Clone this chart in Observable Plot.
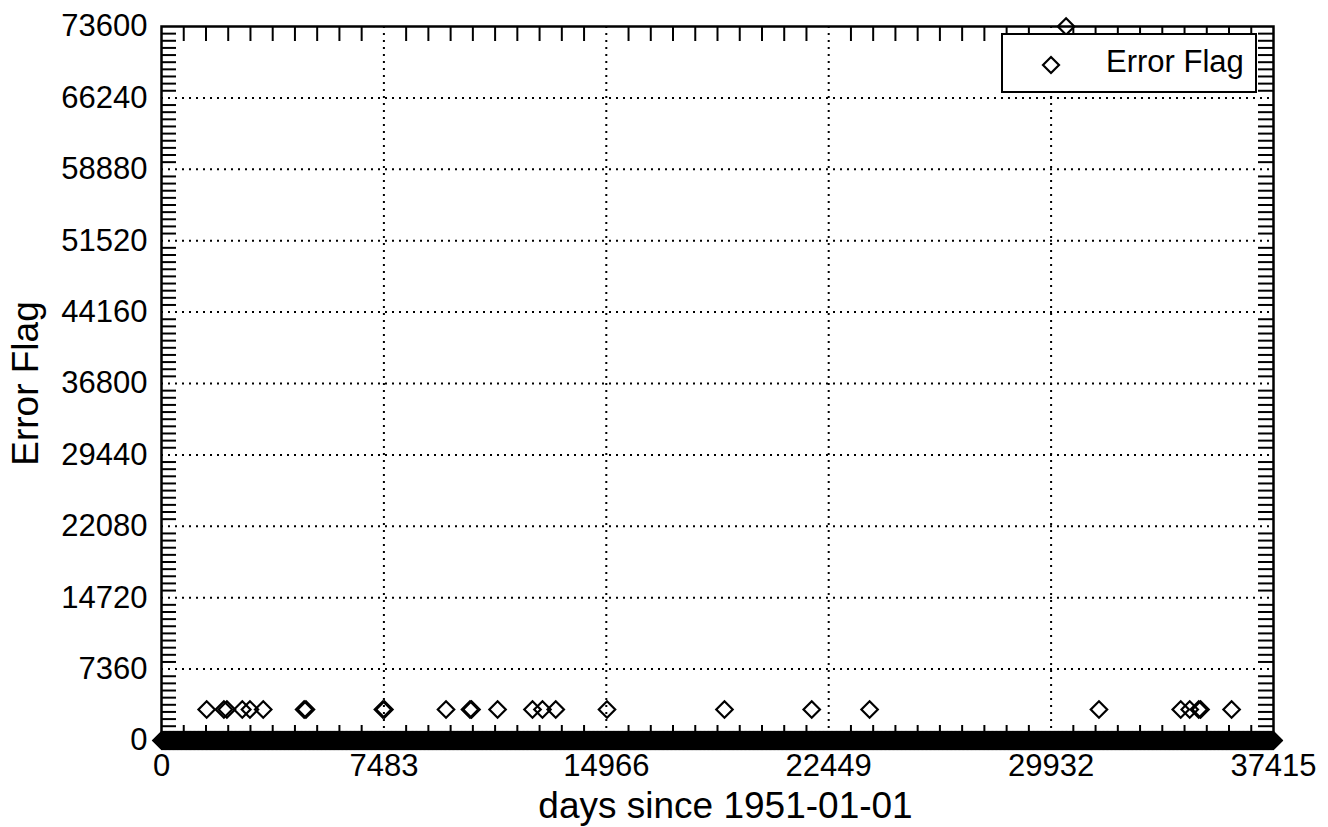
<!DOCTYPE html>
<html>
<head>
<meta charset="utf-8">
<script src="https://cdn.jsdelivr.net/npm/d3@7"></script>
<script src="https://cdn.jsdelivr.net/npm/@observablehq/plot@0.6"></script>
<style>
  html, body { margin: 0; padding: 0; background: #fff; }
  #wrap { position: relative; width: 1328px; height: 827px; font-family: "Liberation Sans", Arial, Helvetica, sans-serif; }
  #legend { position: absolute; left: 1001px; top: 33px; width: 252px; height: 56px; border: 2px solid #000; background: #fff; }
  #legend svg { position: absolute; left: 35px; top: 17px; }
  #legend span { position: absolute; left: 103px; top: 9px; font-size: 31px; line-height: 36px; color: #000; }
</style>
</head>
<body>
<div id="wrap">
  <div id="chart"></div>
  <div id="legend">
    <svg width="26" height="26"><path d="M13,5L21,13L13,21L5,13Z" fill="none" stroke="#000" stroke-width="2.2"/></svg>
    <span>Error Flag</span>
  </div>
</div>
<script>
// ---- data ----
const xTicks = [0, 7483, 14966, 22449, 29932, 37415];
const yTicks = [0, 7360, 14720, 22080, 29440, 36800, 44160, 51520, 58880, 66240, 73600];

// days with a non-zero error flag
const flagDays   = [1520, 2100, 2200, 2718, 2976, 3423, 4800, 4860, 7450, 7500, 9573, 10380, 10430,
                    11308, 12483, 12818, 13265, 14990, 18942, 21878, 23825, 30436, 31543, 34294, 34596,
                    34900, 34960, 36005];
const flagValues = [3200, 3200, 3200, 3200, 3200, 3200, 3200, 3200, 3200, 3200, 3200, 3200, 3200,
                    3200, 3200, 3200, 3200, 3200, 3200, 3200, 3200, 73600, 3200, 3200, 3200,
                    3200, 3200, 3200];

// all other days carry flag 0 (daily record, sampled)
const zeroFirstDay = 0;
const zeroLastDay = 37415;
const zeroDayStep = 15;

// ---- build tables ----
const flagged = flagDays.map((d, i) => ({day: d, flag: flagValues[i]}));
const zeros = d3.range(zeroFirstDay, zeroLastDay + 1, zeroDayStep).map(d => ({day: d, flag: 0}));
zeros.push({day: zeroLastDay, flag: 0});
const points = zeros.concat(flagged);

const minorOf = (ticks) => {
  const out = [];
  for (let i = 0; i < ticks.length - 1; i++) {
    const s = (ticks[i + 1] - ticks[i]) / 10;
    for (let k = 1; k < 10; k++) out.push(ticks[i] + k * s);
  }
  return out;
};
const xMinor = minorOf(xTicks);
const yMinor = minorOf(yTicks);

const W = 1328, H = 827, mL = 161, mR = 55, mT = 26, mB = 87;
const pw = W - mL - mR, ph = H - mT - mB;
const tickLen = 15;

const chart = Plot.plot({
  width: W, height: H,
  marginLeft: mL, marginRight: mR, marginTop: mT, marginBottom: mB,
  style: {fontFamily: '"Liberation Sans", Arial, Helvetica, sans-serif', fontSize: "31px", color: "#000", background: "#fff"},
  x: {domain: [xTicks[0], xTicks[xTicks.length - 1]], axis: null},
  y: {domain: [yTicks[0], yTicks[yTicks.length - 1]], axis: null},
  marks: [
    // dotted grid
    Plot.ruleX(xTicks.slice(1, -1), {x: d => d, stroke: "#000", strokeWidth: 2, strokeDasharray: "2,5"}),
    Plot.ruleY(yTicks.slice(1, -1), {y: d => d, stroke: "#000", strokeWidth: 2, strokeDasharray: "2,5"}),
    // minor ticks, inward on all four sides
    Plot.tickX(xMinor, {x: d => d, insetTop: ph - tickLen, stroke: "#000", strokeWidth: 2}),
    Plot.tickX(xMinor, {x: d => d, insetBottom: ph - tickLen, stroke: "#000", strokeWidth: 2}),
    Plot.tickY(yMinor, {y: d => d, insetRight: pw - tickLen, stroke: "#000", strokeWidth: 2}),
    Plot.tickY(yMinor, {y: d => d, insetLeft: pw - tickLen, stroke: "#000", strokeWidth: 2}),
    Plot.frame({stroke: "#000", strokeWidth: 2.5}),
    // tick labels
    Plot.text(xTicks, {x: d => d, text: d => String(d), frameAnchor: "bottom", dy: 26, lineAnchor: "middle", fill: "#000", fontSize: 31}),
    Plot.text(yTicks, {y: d => d, text: d => String(d), frameAnchor: "left", dx: -14, textAnchor: "end", lineAnchor: "middle", fill: "#000", fontSize: 31}),
    // axis titles
    Plot.text(["days since 1951-01-01"], {text: d => d, frameAnchor: "bottom", dx: 8, dy: 66, textAnchor: "middle", lineAnchor: "middle", fill: "#000", fontSize: 37}),
    Plot.text(["Error Flag"], {text: d => d, frameAnchor: "left", dx: -135, rotate: -90, textAnchor: "middle", lineAnchor: "middle", fill: "#000", fontSize: 37}),
    // data
    Plot.dot(points, {x: "day", y: "flag", symbol: "diamond2", r: 7.4, stroke: "#000", strokeWidth: 2.2, fill: "none"})
  ]
});
document.getElementById("chart").appendChild(chart);
</script>
</body>
</html>
